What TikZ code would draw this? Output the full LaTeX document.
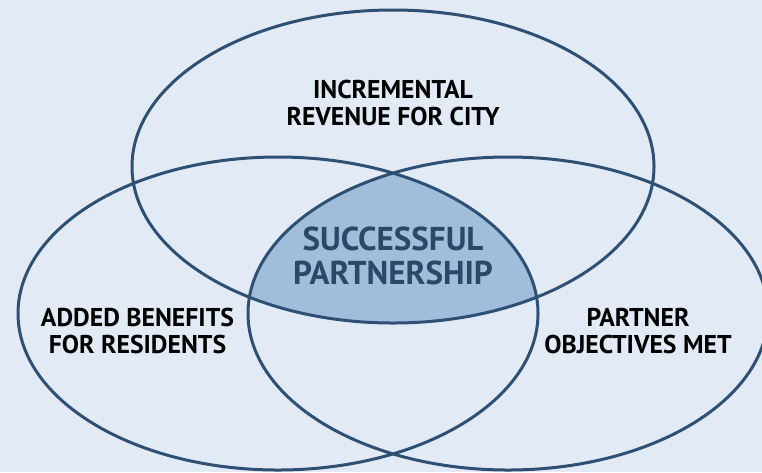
\documentclass[tikz,border=0pt]{standalone}
\usepackage{fontspec}
\setmainfont{PT Sans}

\definecolor{vennback}{HTML}{E2EBF5}
\definecolor{vennline}{HTML}{2E5075}
\definecolor{vennfill}{HTML}{A0BDDC}
\definecolor{venntext}{HTML}{2A4868}

\tikzset{every picture/.style={line width=0.75pt}}
\tikzset{
	ring/.style={draw=vennline, line width=2.25pt},
	setlabel/.style={inner sep=0.75pt, align=center, text=black,
		font=\fontsize{19.3}{20.25}\selectfont\bfseries},
	corelabel/.style={inner sep=0.75pt, align=center, text=venntext,
		font=\fontsize{24.8}{25.5}\selectfont\bfseries}
}

\begin{document}
\begin{tikzpicture}[x=0.75pt,y=0.75pt,yscale=-1,xscale=1]
	\useasboundingbox (0,0) rectangle (762,472);
	\clip (0,0) rectangle (762,472);
	\fill [vennback] (0,0) rectangle (762,472);
	
	%Shape: common part of the three ellipses
	\begin{scope}
		\clip (393,166.5) ellipse (261 and 156.5);
		\clip (278,313.5) ellipse (260 and 156.5);
		\fill [vennfill] (508,313.5) ellipse (260 and 156.5);
	\end{scope}
	%Shape: Ellipse, city
	\draw [ring] (393,166.5) ellipse (261 and 156.5);
	%Shape: Ellipse, residents
	\draw [ring] (278,313.5) ellipse (260 and 156.5);
	%Shape: Ellipse, partner
	\draw [ring] (508,313.5) ellipse (260 and 156.5);
	
	% Text Node
	\draw (393,102.5) node [setlabel] (city) {INCREMENTAL\\REVENUE FOR CITY};
	% Text Node
	\draw (137.5,331) node [setlabel] (residents) {ADDED BENEFITS\\FOR RESIDENTS};
	% Text Node
	\draw (638,331) node [setlabel] (partner) {PARTNER\\OBJECTIVES MET};
	% Text Node
	\draw (393,256) node [corelabel] (success) {SUCCESSFUL\\PARTNERSHIP};
	
\end{tikzpicture}
\end{document}
